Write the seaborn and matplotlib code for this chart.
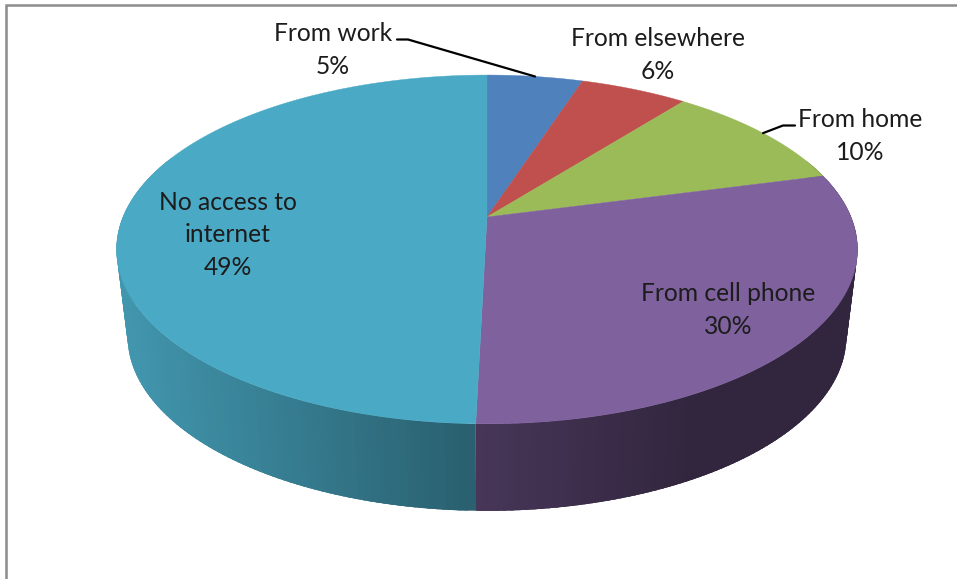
import numpy as np
import matplotlib
matplotlib.use('Agg')
import matplotlib.pyplot as plt
import seaborn as sns

# Данные диаграммы
categories = ['From work', 'From elsewhere', 'From home', 'From cell phone', 'No access to\ninternet']
shares = [5.0, 5.6, 10.3, 29.5, 49.6]
share_labels = ['5%', '6%', '10%', '30%', '49%']
colors = ['#4F81BD', '#C0504D', '#9BBB59', '#7F619E', '#4AAAC5']

sns.set_theme(style='white')
plt.rcParams['font.family'] = ['Lato', 'DejaVu Sans']

# Центр и перспектива "3D" круга (в пикселях картинки)
cx, cy = 487, 217
half_w = 364
persp = 0.186
lift = 128
depth = 87
bottom_scale = 0.97


def rim(angle):
    # угол по часовой от верха -> точка на верхней кромке
    u, v = np.sin(angle), np.cos(angle)
    w = 1 + persp * v
    return cx + half_w * u / w, (cy - lift * v) / w


def wall_shade(x):
    return np.interp(x, [125, 475, 700, 857], [0.88, 0.56, 0.39, 0.39])


fig, ax = plt.subplots(figsize=(9.57, 5.79), dpi=100)
fig.subplots_adjust(left=0, right=1, top=1, bottom=0)
ax.set_xlim(0, 957)
ax.set_ylim(579, 0)
ax.axis('off')

# Рамка области диаграммы
ax.plot([6, 6, 957], [579, 5, 5], color='#8c8c8c', lw=1.8, solid_joinstyle='miter')

edges = np.radians(np.cumsum([0] + shares) * 3.6)

# Боковая стенка: полоски с затемнением, каждая заходит под следующую
for start, end, color in zip(edges[:-1], edges[1:], colors):
    base = np.array(matplotlib.colors.to_rgb(color))
    steps = max(int(np.degrees(end - start)), 2)
    grid = np.linspace(start, end, steps + 1)
    for a0, a1 in zip(grid[:-1], grid[1:]):
        if np.cos((a0 + a1) / 2) > 0.35:
            continue
        # перекрытие, чтобы не было швов
        arc = np.linspace(a0, min(a1 + np.radians(1.5), end), 6)
        x, y = rim(arc)
        xs = np.r_[x, (cx + (x - cx) * bottom_scale)[::-1]]
        ys = np.r_[y, (y + depth)[::-1]]
        shade = base * wall_shade(rim((a0 + a1) / 2)[0])
        ax.fill(xs, ys, color=shade, lw=0, zorder=2)

# Верхняя крышка
for start, end, color in zip(edges[:-1], edges[1:], colors):
    grid = np.linspace(start, end, 120)
    x, y = rim(grid)
    ax.fill(np.r_[cx, x], np.r_[cy, y], color=color, lw=0.3, zorder=3)

text_style = dict(ha='center', va='center', fontsize=17.7, color='#1c1c1c',
                  linespacing=1.49, zorder=5)
label_pos = [(333, 50), (658, 55), (860, 136), (728, 310), (228, 235)]
for name, pct, (tx, ty) in zip(categories, share_labels, label_pos):
    ax.text(tx, ty, f'{name}\n{pct}', **text_style)

# Выноски к двум маленьким секторам
mids = (edges[:-1] + edges[1:]) / 2
mx, my = rim(mids[0])
ax.plot([397, 408, mx], [39.5, 39.5, my], color='black', lw=1.6, zorder=4)
mx, my = rim(mids[2])
ax.plot([795, 783, mx], [125.5, 125.5, my], color='black', lw=1.6, zorder=4)

fig.savefig('out.png', dpi=100)
